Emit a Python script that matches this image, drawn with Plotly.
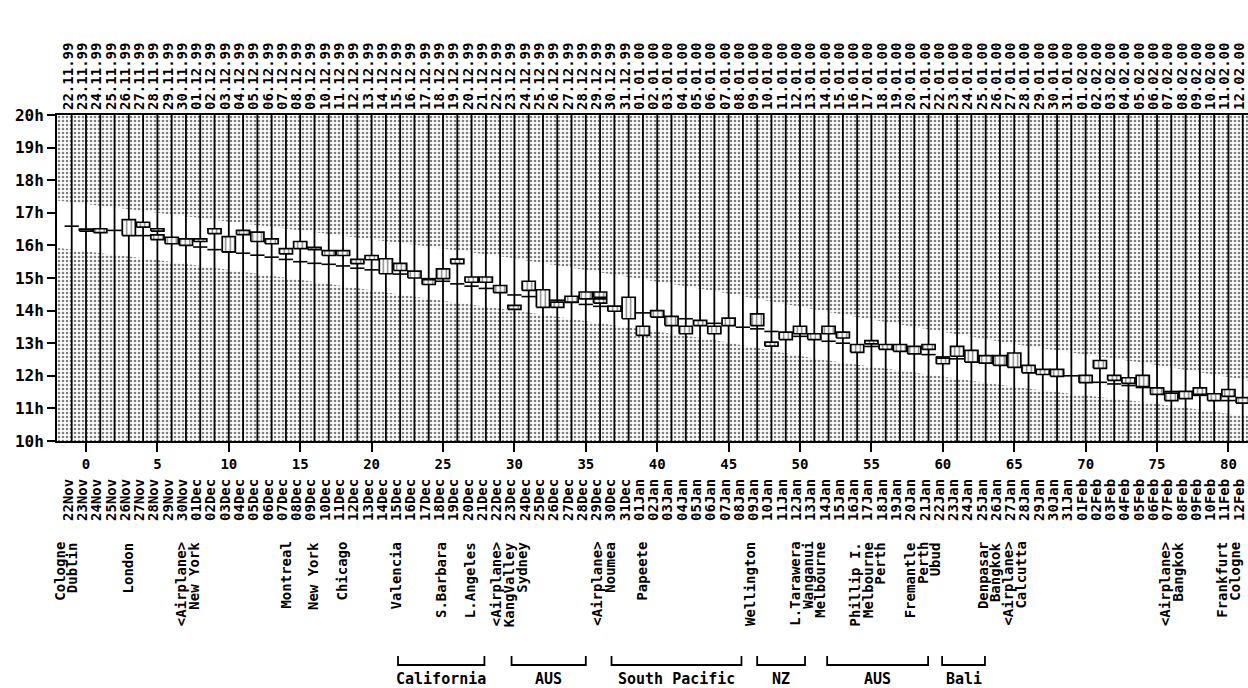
import datetime as dt
import plotly.graph_objects as go

# ---------------- data ----------------
start_date = dt.date(1999, 11, 22)
day_index = list(range(-1, 82))
date_list = [start_date + dt.timedelta(days=i) for i in range(len(day_index))]
top_labels = [d.strftime('%d.%m.%y') for d in date_list]
bottom_labels = [d.strftime('%d') + d.strftime('%b') for d in date_list]

# step line value per day (hours), days -1..81
line_vals = [16.59, 16.48, 16.47, 16.46, 16.45, 16.30, 16.25, 16.15, 16.05, 15.95,
             15.87, 15.80, 15.76, 15.70, 15.64, 15.57, 15.50, 15.45, 15.42, 15.37,
             15.30, 15.25, 15.18, 15.12, 15.05, 14.98, 14.90, 14.82, 14.75, 14.68,
             14.60, 14.48, 14.43, 14.38, 14.32, 14.25, 14.19, 14.13, 14.08, 14.02,
             13.93, 13.87, 13.80, 13.75, 13.68, 13.61, 13.55, 13.49, 13.44, 13.36,
             13.28, 13.21, 13.17, 13.06, 13.00, 12.95, 12.90, 12.85, 12.78, 12.72,
             12.65, 12.58, 12.52, 12.46, 12.40, 12.35, 12.28, 12.22, 12.15, 12.08,
             12.00, 11.92, 11.80, 11.75, 11.70, 11.64, 11.58, 11.52, 11.46, 11.40,
             11.33, 11.24, 11.20]

# boxes: day, low, high (hours)
box_day = [0, 1, 3, 4, 5, 5, 6, 7, 8, 9, 10, 11, 12, 13, 14, 15, 16, 17, 18, 19,
           20, 21, 22, 23, 24, 25, 26, 27, 28, 29, 30, 31, 32, 33, 34, 35, 36, 36, 37, 38,
           39, 40, 41, 42, 43, 44, 45, 47, 48, 49, 50, 51, 52, 53, 54, 55, 56, 57, 58, 59,
           60, 61, 62, 63, 64, 65, 66, 67, 68, 70, 71, 72, 73, 74, 75, 76, 77, 78, 79, 80, 81]
box_low = [16.44, 16.39, 16.30, 16.56, 16.44, 16.18, 16.05, 16.00, 16.12, 16.36, 15.80, 16.33, 16.12, 16.05, 15.74, 15.90, 15.87, 15.69, 15.69, 15.44,
           15.56, 15.13, 15.23, 15.00, 14.80, 14.98, 15.44, 14.87, 14.87, 14.55, 14.04, 14.62, 14.10, 14.10, 14.26, 14.36, 14.41, 14.23, 13.98, 13.75,
           13.24, 13.80, 13.54, 13.29, 13.54, 13.29, 13.54, 13.54, 12.91, 13.11, 13.29, 13.11, 13.29, 13.16, 12.72, 12.98, 12.81, 12.75, 12.67, 12.81,
           12.37, 12.60, 12.42, 12.39, 12.32, 12.26, 12.09, 12.04, 11.98, 11.79, 12.23, 11.86, 11.77, 11.67, 11.43, 11.24, 11.30, 11.43, 11.24, 11.37, 11.16]
box_high = [16.50, 16.51, 16.79, 16.71, 16.51, 16.32, 16.25, 16.20, 16.20, 16.51, 16.27, 16.46, 16.41, 16.20, 15.90, 16.12, 15.94, 15.84, 15.84, 15.57,
            15.69, 15.59, 15.45, 15.21, 14.95, 15.28, 15.58, 15.03, 15.03, 14.77, 14.16, 14.90, 14.64, 14.26, 14.44, 14.57, 14.57, 14.36, 14.14, 14.41,
            13.52, 14.00, 13.82, 13.52, 13.70, 13.52, 13.77, 13.90, 13.03, 13.34, 13.52, 13.29, 13.52, 13.34, 12.96, 13.08, 12.96, 12.96, 12.90, 12.96,
            12.54, 12.90, 12.78, 12.62, 12.62, 12.70, 12.32, 12.20, 12.20, 12.01, 12.47, 12.01, 11.94, 12.01, 11.63, 11.47, 11.52, 11.63, 11.45, 11.58, 11.33]

# white band edges (hours) read at sample days
band_day = [-2.1, 5, 15, 23.4, 30, 37, 44, 51.4, 58, 66, 74, 81.5]
band_upper = [17.38, 17.0, 16.46, 16.0, 15.6, 15.1, 14.6, 14.0, 13.5, 12.9, 12.4, 11.85]
band_lower = [15.93, 15.55, 14.95, 14.4, 14.0, 13.55, 13.1, 12.5, 12.1, 11.6, 11.2, 10.75]

# location labels
loc_day = [-1.44, 2.94, 7.1, 13.94, 15.9, 17.86, 21.7, 24.86, 26.9, 29.6, 36.2, 38.87,
           46.5, 50.5, 54.76, 58.6, 64.1, 76.0, 79.97]
loc_text = [["Cologne", "Dublin"], ["London"], ["<Airplane>", "New York"], ["Montreal"],
            ["New York"], ["Chicago"], ["Valencia"], ["S.Barbara"], ["L.Angeles"],
            ["<Airplane>", "KangValley", "Sydney"], ["<Airplane>", "Noumea"], ["Papeete"],
            ["Wellington"], ["L.Tarawera", "Wanganui", "Melbourne"],
            ["Phillip I.", "Melbourne", "Perth"], ["Fremantle", "Perth", "Ubud"],
            ["Denpasar", "Bangkok", "<Airplane>", "Calcutta"], ["<Airplane>", "Bangkok"],
            ["Frankfurt", "Cologne"]]

# region groups
group_names = ["California", "AUS", "South Pacific", "NZ", "AUS", "Bali"]
group_start = [21.85, 29.8, 36.8, 47.0, 51.9, 59.95]
group_end = [27.9, 35.0, 45.9, 50.35, 58.97, 62.95]

y_ticks = list(range(10, 21))
x_ticks = list(range(0, 81, 5))

# ---------------- styling ----------------
FONT = "DejaVu Sans Mono"
X0, X1 = -2.03, 81.37
W, H = 1248, 688
ML, MR, MT, MB = 57, 0, 115, 247
PH = H - MT - MB
LABEL_OFFSET = 0.25  # date labels sit slightly left of their day line


def esc(s):
    return s.replace("<", "&lt;").replace(">", "&gt;")


def xpaper(d):
    return (d - X0) / (X1 - X0)


def ypaper(py):
    return (H - MB - py) / PH


def fnt(size):
    return dict(family=FONT, size=size, color='black', weight='bold')


fig = go.Figure()

dots = dict(shape='.', fgcolor='black', bgcolor='white', size=4, solidity=0.33)
fig.add_trace(go.Scatter(x=band_day + band_day[::-1], y=band_upper + [20.5] * len(band_day),
                         fill='toself', mode='none', fillcolor='white', fillpattern=dots,
                         hoverinfo='skip'))
fig.add_trace(go.Scatter(x=band_day + band_day[::-1], y=band_lower + [9.5] * len(band_day),
                         fill='toself', mode='none', fillcolor='white', fillpattern=dots,
                         hoverinfo='skip'))

# vertical day lines
vx, vy = [], []
for d in day_index:
    vx += [d, d, None]
    vy += [9.5, 20.5, None]
fig.add_trace(go.Scatter(x=vx, y=vy, mode='lines', line=dict(color='black', width=1.8),
                         hoverinfo='skip'))

# step line
sx, sy = [], []
for d, v in zip(day_index, line_vals):
    sx += [d - 0.5, d + 0.5, None]
    sy += [v, v, None]
fig.add_trace(go.Scatter(x=sx, y=sy, mode='lines', line=dict(color='black', width=1.6),
                         hoverinfo='skip'))

# boxes
bx, by = [], []
hw = 0.46
for d, lo, hi in zip(box_day, box_low, box_high):
    bx += [d - hw, d + hw, d + hw, d - hw, d - hw, None]
    by += [lo, lo, hi, hi, lo, None]
fig.add_trace(go.Scatter(x=bx, y=by, mode='lines', fill='toself', fillcolor='white',
                         fillpattern=dict(shape='|', fgcolor='black', bgcolor='white',
                                          size=4.5, solidity=0.3),
                         line=dict(color='black', width=1.7), hoverinfo='skip'))

# dummy traces for overlay axes
fig.add_trace(go.Scatter(x=[0], y=[15], xaxis='x2', mode='markers',
                         marker=dict(opacity=0), hoverinfo='skip'))
fig.add_trace(go.Scatter(x=[0], y=[15], xaxis='x3', mode='markers',
                         marker=dict(opacity=0), hoverinfo='skip'))

annotations = []
for d, lines in zip(loc_day, loc_text):
    n = len(lines)
    for i, t in enumerate(lines):
        annotations.append(dict(x=d, xref='x', y=ypaper(540), yref='paper', text=esc(t),
                                textangle=-90, xanchor='center', yanchor='top',
                                xshift=(i - (n - 1) / 2) * 12.5, showarrow=False,
                                font=fnt(14)))

shapes = []
yb = ypaper(665)
yt = ypaper(656)
for name, a, b in zip(group_names, group_start, group_end):
    xa, xb = xpaper(a), xpaper(b)
    shapes.append(dict(type='path', xref='paper', yref='paper',
                       path=f"M {xa} {yt} L {xa} {yb} L {xb} {yb} L {xb} {yt}",
                       line=dict(color='black', width=1.8)))
    annotations.append(dict(x=(a + b) / 2, xref='x', y=ypaper(679), yref='paper', text=name,
                            xanchor='center', yanchor='middle', showarrow=False,
                            font=fnt(15)))

label_pos = [d - LABEL_OFFSET for d in day_index]
fig.update_layout(
    width=W, height=H,
    margin=dict(l=ML, r=MR, t=MT, b=MB, autoexpand=False),
    paper_bgcolor='white', plot_bgcolor='white', showlegend=False,
    xaxis=dict(range=[X0, X1], tickvals=x_ticks, ticktext=[str(v) for v in x_ticks],
               ticks='outside', ticklen=9,
               tickwidth=2, tickcolor='black', showline=True, linecolor='black', linewidth=2,
               mirror=True, showgrid=False, zeroline=False, tickfont=fnt(14)),
    xaxis2=dict(overlaying='x', side='top', anchor='y', range=[X0, X1], tickvals=label_pos,
                ticktext=top_labels, tickangle=-90, ticks='', showgrid=False, zeroline=False,
                showline=False, tickfont=fnt(14),
                ticklabelstandoff=4, ticklabeloverflow='allow'),
    xaxis3=dict(overlaying='x', side='bottom', anchor='y', range=[X0, X1], tickvals=label_pos,
                ticktext=bottom_labels, tickangle=-90, ticks='', showgrid=False, zeroline=False,
                showline=False, tickfont=fnt(14),
                ticklabelstandoff=34, ticklabeloverflow='allow'),
    yaxis=dict(range=[10, 20], tickvals=y_ticks, ticktext=[f"{v}h" for v in y_ticks],
               ticks='outside',
               ticklen=8, tickwidth=2, tickcolor='black', showline=True, linecolor='black',
               linewidth=2, showgrid=False, zeroline=False,
               tickfont=fnt(16)),
    annotations=annotations, shapes=shapes,
)

fig.write_html("out.html", config={'displayModeBar': False},
               post_script="document.body.style.margin='0';document.body.style.overflow='hidden';")
